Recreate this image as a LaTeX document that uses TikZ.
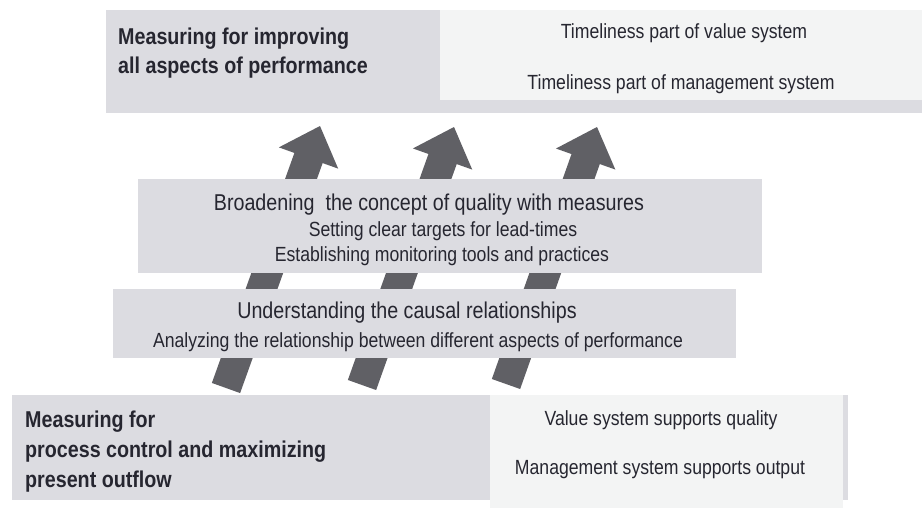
\documentclass[tikz,border=0pt]{standalone}
\usepackage{fontspec}
\setmainfont{Liberation Sans}[FakeStretch=0.86]
\usetikzlibrary{calc}
\definecolor{boxgray}{RGB}{220,220,225}
\definecolor{boxlight}{RGB}{243,244,244}
\definecolor{arrowgray}{RGB}{96,96,101}
\definecolor{txt}{RGB}{38,38,48}
\begin{document}
\begin{tikzpicture}[x=1pt,y=-1pt,
  panel/.style={fill=boxgray, draw=none, anchor=north west, inner sep=0pt},
  lightpanel/.style={fill=boxlight, draw=none, anchor=north west, inner sep=0pt},
  bigtxt/.style={font=\fontsize{22.9}{27}\selectfont, text=txt, inner sep=0pt},
  boldtxt/.style={font=\fontsize{22.9}{27}\selectfont\bfseries, text=txt, inner sep=0pt, anchor=base west},
  smalltxt/.style={font=\fontsize{20.5}{24}\selectfont, text=txt, inner sep=0pt},
  upshape/.style={fill=arrowgray, draw=none}]
\useasboundingbox (0,0) rectangle (922,509);
\fill[white] (0,0) rectangle (922,509);

% arrows (behind the panels)
\coordinate (a1b) at (226,388); \coordinate (a1t) at (320,126);
\coordinate (a2b) at (362,385); \coordinate (a2t) at (454,127);
\coordinate (a3b) at (506,384); \coordinate (a3t) at (597,127);
\foreach \i in {1,2,3}{
  \coordinate (a\i h) at ($(a\i t)!34pt!(a\i b)$);
  \fill[upshape] ($(a\i b)!15pt!90:(a\i t)$) -- ($(a\i h)!15pt!-90:(a\i b)$)
    -- ($(a\i h)!31.5pt!-90:(a\i b)$) -- (a\i t) -- ($(a\i h)!31.5pt!90:(a\i b)$)
    -- ($(a\i h)!15pt!90:(a\i b)$) -- ($(a\i b)!15pt!-90:(a\i t)$) -- cycle;
}

% top panel
\node[panel, minimum width=816pt, minimum height=103pt] (top) at (106,10) {};
\node[lightpanel, minimum width=482pt, minimum height=90pt] (toplight) at (440,10) {};
\node[boldtxt] (topl1) at (118,44) {Measuring for improving};
\node[boldtxt] (topl2) at (118,73) {all aspects of performance};
\node[smalltxt, anchor=base] (topr1) at (684,38) {Timeliness part of value system};
\node[smalltxt, anchor=base] (topr2) at (681,89) {Timeliness part of management system};

% middle panels
\node[panel, minimum width=624pt, minimum height=94pt] (mid1) at (138,179) {};
\node[bigtxt, anchor=base] (m1a) at (429,210) {Broadening\ \ the concept of quality with measures};
\node[smalltxt, anchor=base] (m1b) at (443,236) {Setting clear targets for lead-times};
\node[smalltxt, anchor=base] (m1c) at (442,261) {Establishing monitoring tools and practices};

\node[panel, minimum width=623pt, minimum height=69pt] (mid2) at (113,289) {};
\node[bigtxt, anchor=base] (m2a) at (407,318) {Understanding the causal relationships};
\node[smalltxt, anchor=base] (m2b) at (418,347) {Analyzing the relationship between different aspects of performance};

% bottom panel
\node[panel, minimum width=836pt, minimum height=105pt] (bot) at (12,395) {};
\node[lightpanel, minimum width=353pt, minimum height=113pt] (botlight) at (490,395) {};
\node[boldtxt] (b1) at (25,427) {Measuring for};
\node[boldtxt] (b2) at (25,457) {process control and maximizing};
\node[boldtxt] (b3) at (25,487) {present outflow};
\node[smalltxt, anchor=base] (br1) at (661,425) {Value system supports quality};
\node[smalltxt, anchor=base] (br2) at (660,474) {Management system supports output};
\end{tikzpicture}
\end{document}
